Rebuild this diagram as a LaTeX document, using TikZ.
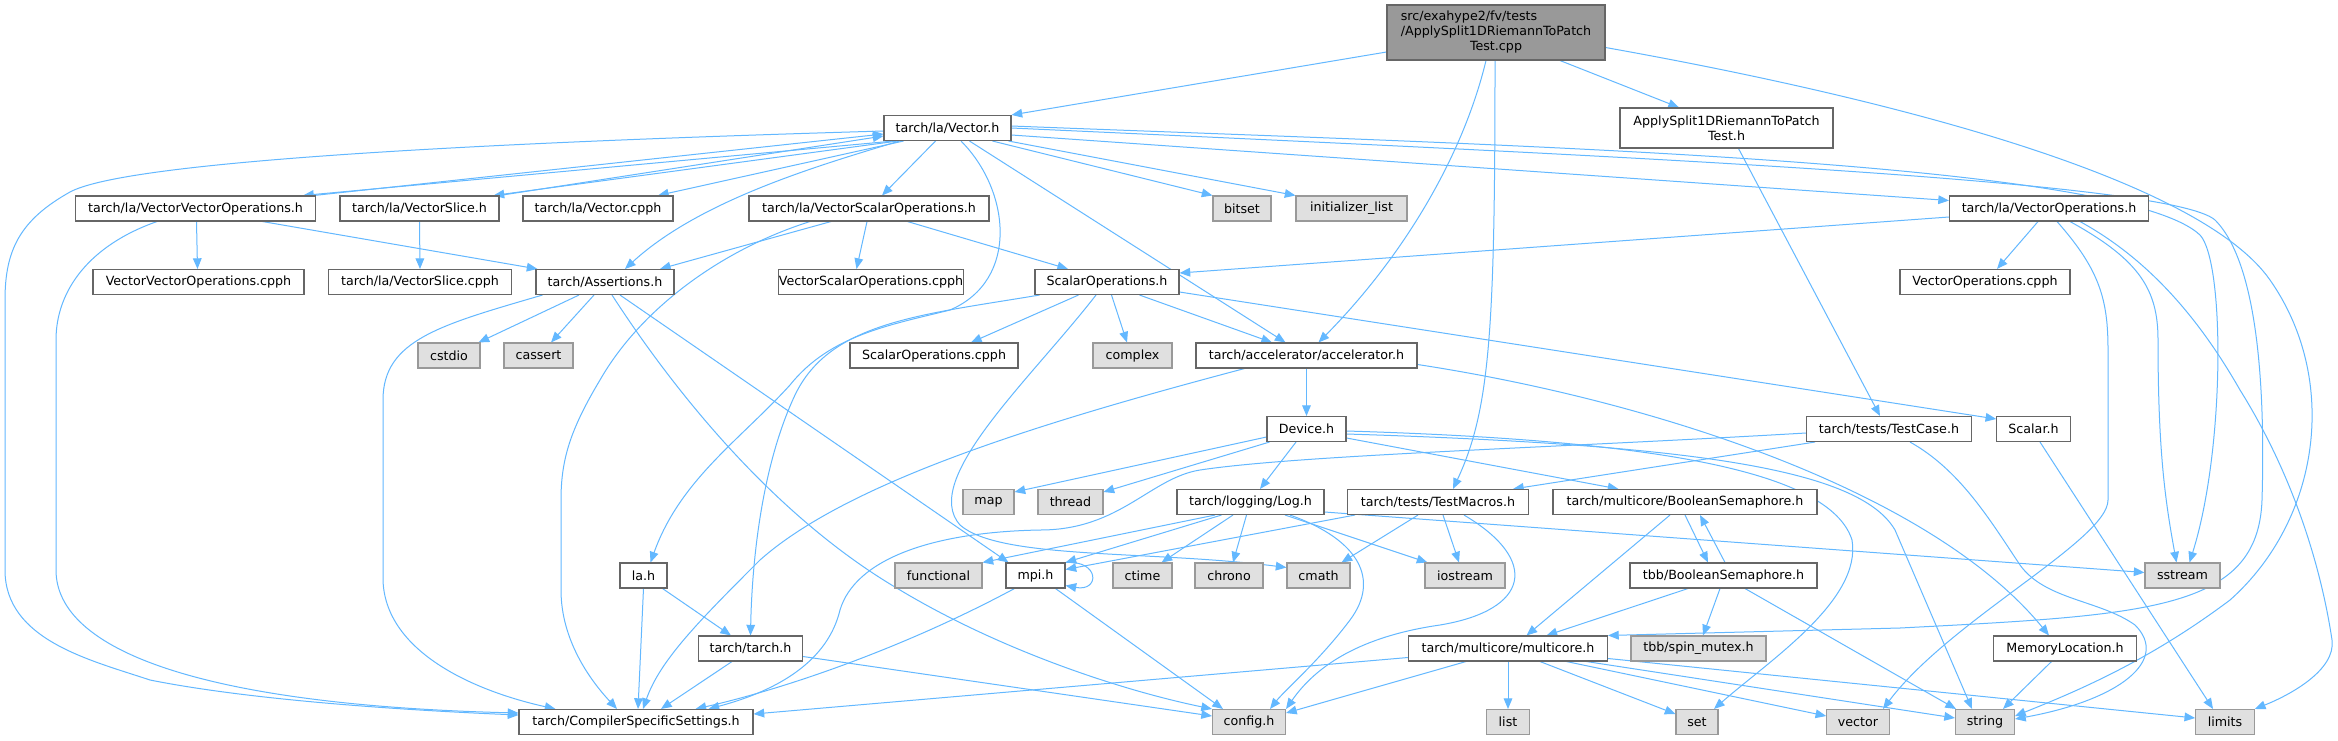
\documentclass[tikz,border=0pt]{standalone}
\usepackage{fontspec}
\setmainfont{DejaVu Sans}
\usetikzlibrary{arrows.meta,calc,backgrounds}
\definecolor{edgec}{HTML}{63B8FF}
\definecolor{bd}{HTML}{666666}
\definecolor{extbd}{HTML}{999999}
\definecolor{extfill}{HTML}{E0E0E0}
\definecolor{mainfill}{HTML}{999999}
\begin{document}
\begin{tikzpicture}[x=0.75pt,y=-0.75pt,font=\fontsize{9.5}{11.25}\selectfont,
  box/.style={draw=bd,line width=0.8pt,fill=white,inner sep=0pt,minimum height=18.75pt},
  ext/.style={box,draw=extbd,fill=extfill},
  bw/.style={minimum width=#1*0.75pt},
  ed/.style={draw=edgec,line width=0.75pt,-{Triangle[length=8pt,width=6.5pt]}}]
\useasboundingbox (0,0) rectangle (2338,740);
% nodes
\node[box,bw=218,minimum height=41.25pt,fill=mainfill] (main) at (1496,32.5) {\begin{tabular}{@{}l@{}}src/exahype2/fv/tests\\/ApplySplit1DRiemannToPatch\\\multicolumn{1}{@{}c@{}}{Test.cpp}\end{tabular}};
\node[box,bw=127] (vec) at (947.5,128) {tarch/la/Vector.h};
\node[box,bw=213,minimum height=30pt,align=center] (apt) at (1726.5,128) {ApplySplit1DRiemannToPatch\\Test.h};
\node[box,bw=240] (vvo) at (195.5,208.5) {tarch/la/VectorVectorOperations.h};
\node[box,bw=159] (vsl) at (419.5,208.5) {tarch/la/VectorSlice.h};
\node[box,bw=150] (vcp) at (598,208.5) {tarch/la/Vector.cpph};
\node[box,bw=240] (vso) at (869,208.5) {tarch/la/VectorScalarOperations.h};
\node[ext,bw=58] (bitset) at (1242,208.5) {bitset};
\node[ext,bw=111] (initl) at (1351.5,208.5) {initializer\_list};
\node[box,bw=199] (vop) at (2049,208.5) {tarch/la/VectorOperations.h};
\node[box,bw=211] (vvocp) at (198.5,282) {VectorVectorOperations.cpph};
\node[box,bw=183] (vslcp) at (420,282) {tarch/la/VectorSlice.cpph};
\node[box,bw=138] (ass) at (605,282) {tarch/Assertions.h};
\node[box,bw=176] (vsocp) at (871,282) {VectorScalarOperations.cpph};
\node[box,bw=144] (sop) at (1107,282) {ScalarOperations.h};
\node[box,bw=170] (vopcp) at (1985,282) {VectorOperations.cpph};
\node[ext,bw=62] (cstdio) at (449,355.5) {cstdio};
\node[ext,bw=69] (cassert) at (538.5,355.5) {cassert};
\node[box,bw=168] (sopcp) at (934,355.5) {ScalarOperations.cpph};
\node[ext,bw=79] (complex) at (1132.5,355.5) {complex};
\node[box,bw=221] (acc) at (1306.5,355.5) {tarch/accelerator/accelerator.h};
\node[box,bw=79] (dev) at (1306.5,429) {Device.h};
\node[box,bw=165] (tcase) at (1889,429) {tarch/tests/TestCase.h};
\node[box,bw=73.5] (scal) at (2033.5,429) {Scalar.h};
\node[ext,bw=51] (map) at (988.5,502) {map};
\node[ext,bw=65] (thread) at (1070.5,502) {thread};
\node[box,bw=147] (log) at (1250.5,502) {tarch/logging/Log.h};
\node[box,bw=181] (tmac) at (1438,502) {tarch/tests/TestMacros.h};
\node[box,bw=264] (bsem) at (1685,502) {tarch/multicore/BooleanSemaphore.h};
\node[ext,bw=87] (functional) at (938.5,575.5) {functional};
\node[box,bw=59] (mpi) at (1035.5,575.5) {mpi.h};
\node[ext,bw=59] (ctime) at (1142.5,575.5) {ctime};
\node[ext,bw=68] (chrono) at (1229,575.5) {chrono};
\node[ext,bw=63] (cmath) at (1318.5,575.5) {cmath};
\node[ext,bw=80] (iostream) at (1465,575.5) {iostream};
\node[box,bw=47] (lah) at (643.5,575.5) {la.h};
\node[box,bw=187] (tbbbs) at (1723.5,575.5) {tbb/BooleanSemaphore.h};
\node[ext,bw=75] (sstream) at (2182.5,575.5) {sstream};
\node[box,bw=104] (tarchh) at (750.5,648.5) {tarch/tarch.h};
\node[box,bw=199] (mc) at (1508,648.5) {tarch/multicore/multicore.h};
\node[ext,bw=135] (spin) at (1698.5,648.5) {tbb/spin\_mutex.h};
\node[box,bw=143] (memloc) at (2065,648.5) {MemoryLocation.h};
\node[box,bw=234] (css) at (636,722) {tarch/CompilerSpecificSettings.h};
\node[ext,bw=73] (config) at (1249,722) {config.h};
\node[ext,bw=43] (list) at (1508,722) {list};
\node[ext,bw=42] (set) at (1697,722) {set};
\node[ext,bw=62.5] (vector) at (1858,722) {vector};
\node[ext,bw=59] (string) at (1985,722) {string};
\node[ext,bw=58.6] (limits) at (2225,722) {limits};
\begin{pgfonlayer}{background}
\fill[white] (0,0) rectangle (2338,740);
% main
\draw[ed] ($(main.west)+(0,19.5)$) -- (vec.north east);
\draw[ed] ($(main.south)+(64,0)$) -- ($(apt.north)+(-47.5,0)$);
\draw[ed] ($(main.south)+(-10,0)$) .. controls (1462,160) and (1400,260) .. ($(acc.north)+(12,0)$);
\draw[ed] ($(main.south)+(-1,0)$) .. controls (1495,330) and (1490,410) .. ($(tmac.north)+(15,0)$);
\draw[ed] ($(main.east)+(0,15)$) .. controls (1900,100) and (2200,180) .. (2270,280) .. controls (2340,380) and (2320,520) .. (2230,600) .. controls (2150,660) and (2080,690) .. ($(string.east)+(0,-6)$);
\draw[ed] ($(apt.south)+(12,0)$) -- ($(tcase.north)+(-9,0)$);
% Vector.h
\draw[ed] ($(vec.south west)+(10,0)$) -- ($(vvo.north east)+(-13,0)$);
\draw[ed] ($(vvo.north east)+(-2,0)$) -- ($(vec.west)+(0,6)$);
\draw[ed] ($(vec.south west)+(14,0)$) -- ($(vsl.north east)+(-6,0)$);
\draw[ed] (vsl.north east) -- ($(vec.west)+(0,8)$);
\draw[ed] ($(vec.south west)+(20,0)$) -- ($(vcp.north)+(60,0)$);
\draw[ed] ($(vec.south)+(-12,0)$) -- ($(vso.north)+(13,0)$);
\draw[ed] ($(vec.south west)+(16,0)$) .. controls (820,165) and (700,200) .. ($(ass.north)+(20,0)$);
\draw[ed] ($(vec.south)+(13.5,0)$) .. controls (1010,190) and (1020,280) .. (950,310) .. controls (890,325) and (830,335) .. (790,385) .. controls (740,440) and (680,480) .. ($(lah.north)+(7,0)$);
\draw[ed] ($(vec.south)+(22,0)$) -- ($(acc.north)+(-21,0)$);
\draw[ed] ($(vec.south)+(45,0)$) -- (bitset.north west);
\draw[ed] ($(vec.south east)+(-3,0)$) -- (initl.north west);
\draw[ed] ($(vec.east)+(0,7)$) -- ($(vop.west)+(0,-8)$);
\draw[ed] ($(vec.east)+(0,-2)$) .. controls (1500,145) and (2120,160) .. (2200,235) .. controls (2225,262) and (2225,450) .. ($(sstream.north)+(7,0)$);
\draw[ed] (vec.east) .. controls (1600,155) and (2170,180) .. (2215,220) .. controls (2260,265) and (2265,400) .. (2262,500) .. controls (2258,610) and (2150,615) .. (1900,628) -- (mc.north east);
\draw[ed] ($(vec.west)+(0,3)$) .. controls (400,145) and (120,165) .. (70,192) .. controls (20,220) and (5,250) .. (5,300) -- (5,570) .. controls (5,640) and (90,660) .. (150,680) .. controls (250,700) and (400,710) .. ($(css.west)+(0,-7)$);
% VectorVectorOperations, VectorSlice, VectorScalarOperations
\draw[ed] ($(vvo.south)+(1,0)$) -- ($(vvocp.north)+(-1,0)$);
\draw[ed] ($(vvo.south)+(67,0)$) -- ($(ass.north west)+(2,0)$);
\draw[ed] ($(vvo.south)+(-38.5,0)$) .. controls (90,245) and (56,290) .. (56,340) -- (56,570) .. controls (56,650) and (200,705) .. ($(css.west)+(0,-9)$);
\draw[ed] (vsl.south) -- (vslcp.north);
\draw[ed] ($(vso.south)+(-2,0)$) -- ($(vsocp.north)+(-14.5,0)$);
\draw[ed] ($(vso.south)+(38.5,0)$) -- ($(sop.north)+(-39,0)$);
\draw[ed] ($(vso.south)+(-38,0)$) -- ($(ass.north)+(55,0)$);
\draw[ed] ($(vso.south)+(-59,0)$) .. controls (720,250) and (640,310) .. (600,380) .. controls (570,430) and (561,460) .. (561,500) -- (561,590) .. controls (561,640) and (590,680) .. ($(css.north)+(-19,0)$);
% Assertions
\draw[ed] ($(ass.south)+(-26,0)$) -- ($(cstdio.north east)+(-2,0)$);
\draw[ed] ($(ass.south)+(-11,0)$) -- ($(cassert.north)+(12.5,0)$);
\draw[ed] ($(ass.south west)+(7,0)$) .. controls (440,325) and (383,340) .. (383,400) -- (383,580) .. controls (385,650) and (470,690) .. ($(css.north west)+(37,0)$);
\draw[ed] ($(ass.south)+(7,0)$) .. controls (680,400) and (780,520) .. (900,590) .. controls (1000,650) and (1120,690) .. (config.north west);
\draw[ed] ($(ass.south)+(15,0)$) -- ($(mpi.north west)+(3,0)$);
% ScalarOperations
\draw[ed] ($(sop.south)+(-28.5,0)$) -- ($(sopcp.north)+(37,0)$);
\draw[ed] ($(sop.south)+(4.5,0)$) -- ($(complex.north)+(-5.5,0)$);
\draw[ed] ($(sop.south)+(32.5,0)$) -- ($(acc.north)+(-34.5,0)$);
\draw[ed] ($(sop.east)+(0,10)$) -- ($(scal.west)+(0,-10)$);
\draw[ed] ($(sop.south west)+(5,0)$) .. controls (920,315) and (830,322) .. (795,395) .. controls (762,465) and (752,560) .. (tarchh.north);
\draw[ed] ($(sop.south)+(-11,0)$) .. controls (1030,380) and (920,480) .. (960,525) .. controls (1000,560) and (1150,550) .. ($(cmath.west)+(0,-8)$);
% VectorOperations
\draw[ed] ($(vop.south)+(-11,0)$) -- ($(vopcp.north)+(12,0)$);
\draw[ed] ($(vop.south)+(8,0)$) .. controls (2100,270) and (2108,300) .. (2108,350) -- (2108,500) .. controls (2108,540) and (1950,620) .. ($(vector.north)+(25,0)$);
\draw[ed] ($(vop.south)+(21,0)$) .. controls (2140,260) and (2158,290) .. (2158,340) .. controls (2158,450) and (2165,500) .. ($(sstream.north)+(-6,0)$);
\draw[ed] ($(vop.south)+(31,0)$) .. controls (2150,260) and (2200,320) .. (2240,390) .. controls (2290,470) and (2320,560) .. (2332,640) .. controls (2336,670) and (2290,695) .. (limits.north east);
\draw[ed] ($(vop.west)+(0,8.5)$) -- ($(sop.east)+(0,-9)$);
% accelerator
\draw[ed] (acc.south) -- (dev.north);
\draw[ed] ($(acc.south)+(-62,0)$) .. controls (1050,420) and (850,480) .. (760,560) .. controls (700,620) and (660,660) .. ($(css.north)+(7,0)$);
\draw[ed] ($(acc.east)+(0,9)$) .. controls (1650,400) and (1930,490) .. ($(memloc.north)+(-16,0)$);
% Device
\draw[ed] ($(dev.west)+(0,8)$) -- ($(map.east)+(0,-10)$);
\draw[ed] ($(dev.south west)+(3,0)$) -- ($(thread.east)+(0,-10)$);
\draw[ed] ($(dev.south)+(-10.5,0)$) -- ($(log.north)+(9.5,0)$);
\draw[ed] ($(dev.east)+(0,9)$) -- ($(bsem.north west)+(66,0)$);
\draw[ed] ($(dev.east)+(0,2)$) .. controls (1650,440) and (1830,470) .. (1852,540) .. controls (1862,600) and (1770,660) .. ($(set.north)+(17,0)$);
\draw[ed] ($(dev.east)+(0,5)$) .. controls (1700,445) and (1860,470) .. (1895,530) -- ($(string.north)+(-13,0)$);
% TestCase, Scalar
\draw[ed] ($(tcase.south west)+(9,0)$) -- ($(tmac.north east)+(-16,0)$);
\draw[ed] ($(tcase.west)+(0,4)$) .. controls (1550,448) and (1300,455) .. (1200,470) .. controls (1150,478) and (1120,530) .. (1040,530) .. controls (930,532) and (855,560) .. (840,610) .. controls (828,660) and (780,690) .. ($(css.north east)+(-45,0)$);
\draw[ed] ($(tcase.south)+(21,0)$) .. controls (1960,470) and (1990,520) .. (2020,565) .. controls (2045,600) and (2100,600) .. (2135,625) .. controls (2170,660) and (2120,700) .. ($(string.east)+(0,-3)$);
\draw[ed] ($(scal.south)+(6.5,0)$) -- ($(limits.north)+(-12,0)$);
% Log
\draw[ed] ($(log.south)+(-35.5,0)$) -- (functional.north east);
\draw[ed] ($(log.south)+(-29,0)$) -- (mpi.north east);
\draw[ed] ($(log.south)+(-17.5,0)$) -- ($(ctime.north)+(19,0)$);
\draw[ed] ($(log.south)+(-4,0)$) -- ($(chrono.north)+(4,0)$);
\draw[ed] ($(log.south)+(34.5,0)$) -- ($(iostream.north west)+(3,0)$);
\draw[ed] ($(log.south)+(39.5,0)$) .. controls (1360,540) and (1380,580) .. (1350,620) .. controls (1320,660) and (1285,690) .. ($(config.north)+(21,0)$);
\draw[ed] ($(log.east)+(0,10)$) -- ($(sstream.west)+(0,-3)$);
% TestMacros
\draw[ed] ($(tmac.south west)+(8,0)$) -- ($(mpi.east)+(0,-6)$);
\draw[ed] ($(tmac.south)+(-20,0)$) -- ($(cmath.north)+(23,0)$);
\draw[ed] ($(tmac.south)+(5,0)$) -- ($(iostream.north)+(-6,0)$);
\draw[ed] ($(tmac.south)+(26,0)$) .. controls (1540,560) and (1530,610) .. (1440,625) .. controls (1370,635) and (1320,660) .. (config.north east);
% mpi
\draw[ed] (mpi.north east) .. controls (1100,560) and (1100,592) .. ($(mpi.east)+(0,10)$);
\draw[ed] ($(mpi.south west)+(9,0)$) .. controls (900,650) and (780,690) .. ($(css.north east)+(-58,0)$);
\draw[ed] ($(mpi.south)+(20,0)$) -- ($(config.north west)+(11,0)$);
% la.h, tarch.h
\draw[ed] (lah.south) -- ($(css.north)+(2,0)$);
\draw[ed] ($(lah.south east)+(-5,0)$) -- ($(tarchh.north west)+(33,0)$);
\draw[ed] ($(tarchh.south)+(-18.5,0)$) -- ($(css.north)+(25,0)$);
\draw[ed] ($(tarchh.east)+(0,8)$) -- ($(config.west)+(0,-6)$);
% BooleanSemaphore
\draw[ed] ($(bsem.south)+(-15,0)$) -- ($(mc.north)+(18.5,0)$);
\draw[ed] (bsem.south) -- ($(tbbbs.north)+(-15.5,0)$);
\draw[ed] ($(tbbbs.north)+(1.5,0)$) -- ($(bsem.south)+(15,0)$);
\draw[ed] ($(tbbbs.south)+(-35.5,0)$) -- ($(mc.north)+(38.5,0)$);
\draw[ed] ($(tbbbs.south)+(-3.5,0)$) -- ($(spin.north)+(4.5,0)$);
\draw[ed] ($(tbbbs.south)+(21.5,0)$) -- ($(string.north west)+(1,0)$);
% multicore
\draw[ed] ($(mc.west)+(0,9)$) -- ($(css.east)+(0,-8)$);
\draw[ed] ($(mc.south)+(-42,0)$) -- ($(config.east)+(0,-9)$);
\draw[ed] (mc.south) -- (list.north);
\draw[ed] ($(mc.south)+(32,0)$) -- ($(set.west)+(0,-8)$);
\draw[ed] ($(mc.south)+(58.5,0)$) -- ($(vector.west)+(0,-6)$);
\draw[ed] ($(mc.south)+(78.5,0)$) -- ($(string.west)+(0,-4)$);
\draw[ed] ($(mc.east)+(0,10)$) -- ($(limits.west)+(0,-4)$);
\draw[ed] ($(memloc.south)+(-13.5,0)$) -- ($(string.north)+(18,0)$);
\end{pgfonlayer}
\end{tikzpicture}
\end{document}
